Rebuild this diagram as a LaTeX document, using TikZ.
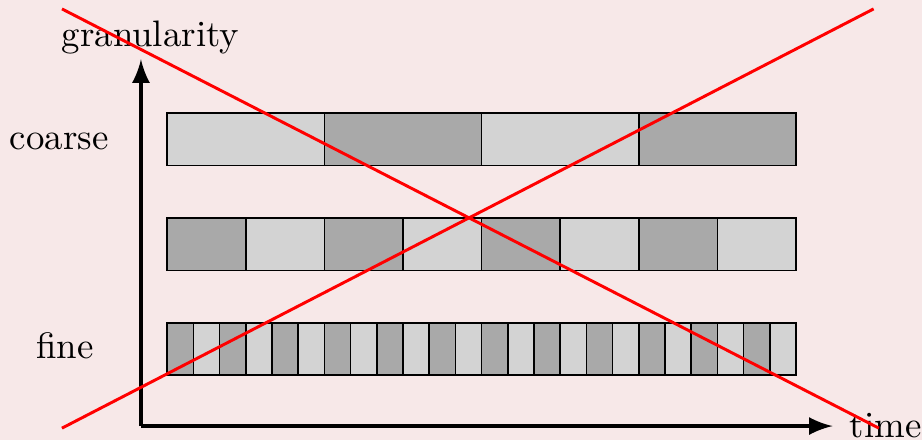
\documentclass[tikz,border=0pt]{standalone}
\usepackage{xcolor}
\usetikzlibrary{arrows}
\definecolor{bgpink}{RGB}{247,232,232}
\definecolor{lightbar}{RGB}{211,211,211}
\definecolor{darkbar}{RGB}{169,169,169}

\begin{document}
\begin{tikzpicture}[
  axis/.style={very thick,-latex},
  cross/.style={red,thick},
  bar/.style={draw=black,line width=0.4pt},
  label/.style={anchor=base,inner sep=0pt}
]
%Background
\fill[bgpink] (-1.345,-0.134) rectangle (7.452,4.065);
\useasboundingbox (-1.345,-0.134) rectangle (7.452,4.065);

%Axes
\coordinate (origin) at (0,0);
\coordinate (ytip) at (0,3.5);
\coordinate (xtip) at (6.6,0);
\draw[axis] (origin) -- (ytip);
\draw[axis] (origin) -- (xtip);

\begin{scope}[yshift=-0.15mm]
%Coarse row
\foreach \x in {0.25,3.25} \draw[bar,fill=lightbar] (\x,2.5) rectangle +(1.5,0.5);
\foreach \x in {1.75,4.75} \draw[bar,fill=darkbar] (\x,2.5) rectangle +(1.5,0.5);
%Middle row
\foreach \x in {0.25,1.75,...,4.75} \draw[bar,fill=darkbar] (\x,1.5) rectangle +(0.75,0.5);
\foreach \x in {1.0,2.5,...,5.5} \draw[bar,fill=lightbar] (\x,1.5) rectangle +(0.75,0.5);
%Fine row
\foreach \x in {0.25,0.75,...,5.8} \draw[bar,fill=darkbar] (\x,0.5) rectangle +(0.25,0.5);
\foreach \x in {0.5,1.0,...,6.05} \draw[bar,fill=lightbar] (\x,0.5) rectangle +(0.25,0.5);
\end{scope}

% Text Node
\node[label] (gran) at (0.09,3.62) {granularity};
% Text Node
\node[label] (coarse) at (-0.78,2.634) {coarse};
% Text Node
\node[label] (fine) at (-0.725,0.64) {fine};
% Text Node
\node[label,anchor=base west] (time) at (6.756,-0.105) {time};

%Crossing out
\coordinate (nw) at (-0.754,3.98);
\coordinate (se) at (7.04,-0.02);
\coordinate (sw) at (-0.754,-0.02);
\coordinate (ne) at (6.99,3.98);
\draw[cross] (nw) -- (se);
\draw[cross] (sw) -- (ne);

\end{tikzpicture}
\end{document}
